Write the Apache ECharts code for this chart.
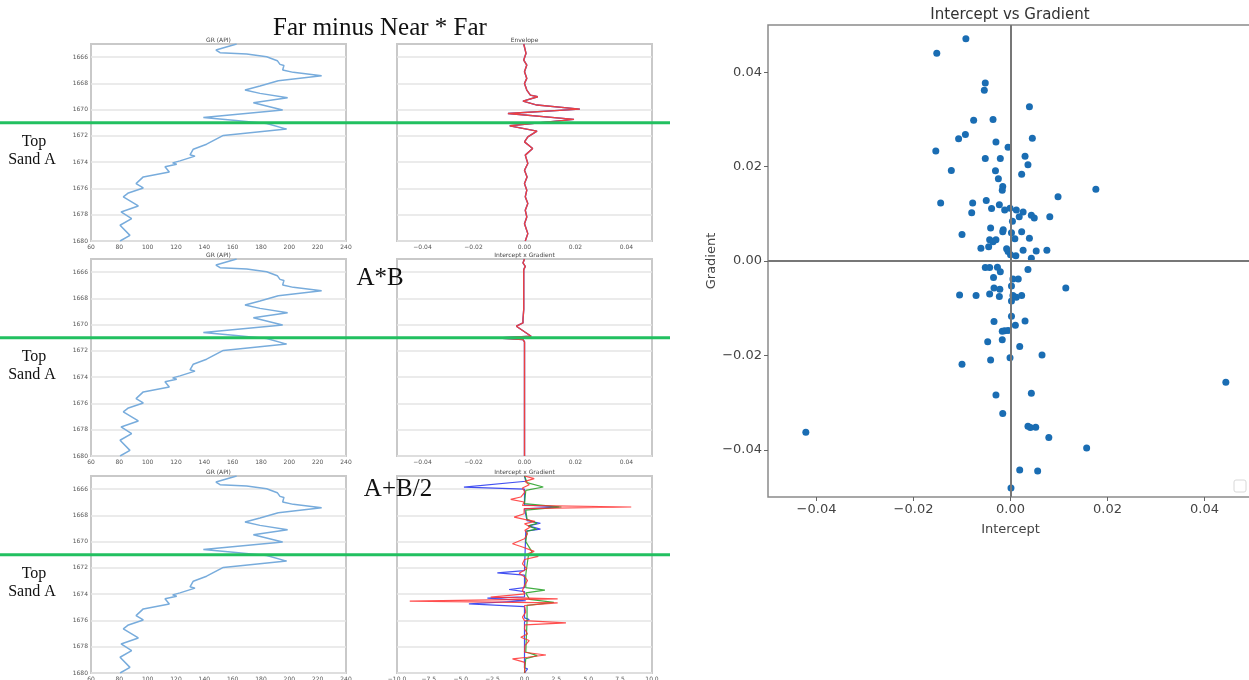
<!DOCTYPE html>
<html lang="en">
<head>
<meta charset="UTF-8" />
<title>Far minus Near * Far</title>
<style>html,body{margin:0;padding:0;background:#fff}</style>
</head>
<body>
<div id="main" style="width:1249px;height:680px"></div>
<script src="https://cdn.jsdelivr.net/npm/echarts@6/dist/echarts.min.js"></script>
<script>
// log tracks: depth ticks and top of sand
const depthTicks = [1666, 1668, 1670, 1672, 1674, 1676, 1678, 1680]
const topSandA = 1671

// GR (API) curve
const grDepth = [1665.0, 1665.46, 1665.66, 1665.76, 1665.97, 1666.27, 1666.55, 1666.63, 1666.98, 1667.16, 1667.41, 1667.8, 1668.2, 1668.51, 1668.76, 1669.09, 1669.47, 1670.03, 1670.59, 1670.8, 1671.05, 1671.48, 1671.96, 1672.63, 1673.01, 1673.44, 1673.54, 1673.9, 1674.05, 1674.15, 1674.35, 1674.74, 1675.12, 1675.63, 1675.96, 1676.34, 1676.64, 1677.33, 1677.79, 1678.29, 1678.8, 1679.57, 1680.0]
const grValues = [162.8, 148.2, 151.1, 169.9, 184.0, 191.5, 193.4, 196.2, 195.3, 202.8, 222.8, 192.2, 179.3, 168.7, 179.3, 198.8, 174.6, 195.3, 139.3, 160.5, 184.0, 198.1, 153.4, 141.6, 132.2, 129.9, 133.4, 122.8, 117.6, 120.5, 112.2, 115.3, 96.9, 91.8, 96.9, 86.4, 82.8, 93.4, 81.2, 88.7, 80.5, 87.5, 80.5]

// Envelope (far minus near * far)
const envDepth = [1665.0, 1665.71, 1666.22, 1666.6, 1667.11, 1667.62, 1668.0, 1668.51, 1668.89, 1669.02, 1669.35, 1669.65, 1669.96, 1670.29, 1670.74, 1671.23, 1671.63, 1672.07, 1672.45, 1672.96, 1673.46, 1674.1, 1674.61, 1675.12, 1675.63, 1676.13, 1676.64, 1677.15, 1677.66, 1678.17, 1678.68, 1679.44, 1680.0]
const envValues = [-0.0003, 0.0006, -0.0003, 0.0009, 0.0, 0.0009, 0.0, 0.0009, 0.0023, 0.0052, -0.0006, 0.0049, 0.0217, -0.0065, 0.0194, -0.0058, 0.0049, 0.0013, 0.0, 0.0032, 0.0003, 0.0013, 0.0, 0.001, 0.0, 0.0009, 0.0003, 0.0013, 0.0003, 0.0009, 0.0, 0.0013, 0.0003]

// Intercept x Gradient (A*B)
const abDepth = [1665.0, 1665.3, 1665.56, 1665.81, 1668.85, 1669.61, 1669.87, 1670.12, 1670.88, 1671.01, 1671.13, 1671.31, 1680.0]
const abValues = [0.0, -0.0006, 0.0003, -0.0003, -0.0003, -0.0006, -0.0006, -0.0032, 0.0026, -0.0103, -0.0006, 0.0, 0.0]

// Intercept x Gradient (A+B/2), three traces
const redDepth = [1665.0, 1665.2, 1665.41, 1665.66, 1665.92, 1666.22, 1666.6, 1666.78, 1666.98, 1667.24, 1667.36, 1667.49, 1667.87, 1668.13, 1668.3, 1668.46, 1668.64, 1668.89, 1669.14, 1669.4, 1669.78, 1670.16, 1670.41, 1670.74, 1670.92, 1671.12, 1671.36, 1671.69, 1672.07, 1672.4, 1672.7, 1672.96, 1673.34, 1673.72, 1673.97, 1674.23, 1674.35, 1674.53, 1674.66, 1674.86, 1675.37, 1675.75, 1676.01, 1676.19, 1676.34, 1676.64, 1677.03, 1677.28, 1677.53, 1677.91, 1678.42, 1678.63, 1678.8, 1678.93, 1679.19, 1679.57, 1680.0]
const redValues = [0.0, 0.76, 0.03, 0.37, -0.16, 0.03, -0.29, -1.08, -0.03, -0.16, 8.37, -0.03, -0.03, -0.81, 0.0, 0.81, 0.0, 0.45, 0.03, 0.24, 0.0, -0.94, -0.16, 0.76, 0.24, 1.08, 0.0, -0.16, 0.18, -0.42, 0.03, 0.24, 0.0, -0.16, 0.03, -2.65, 2.6, -9.0, 2.6, 0.0, 0.1, -0.16, 0.0, 3.25, 0.03, 0.0, 0.24, -0.29, 0.37, 0.03, 0.0, 1.68, 0.24, -0.94, 0.03, 0.0, 0.03]
const greenDepth = [1665.0, 1665.5, 1665.84, 1666.1, 1667.1, 1667.36, 1667.6, 1668.3, 1668.6, 1668.8, 1669.05, 1669.2, 1670.0, 1670.8, 1671.1, 1672.5, 1673.5, 1673.69, 1673.9, 1674.4, 1674.62, 1674.85, 1676.0, 1678.4, 1678.68, 1678.9, 1680.0]
const greenValues = [0.0, 0.2, 1.47, 0.1, 0.0, 2.9, 0.1, 0.2, 1.0, 0.3, 0.95, 0.2, 0.1, 0.6, 0.3, 0.1, 0.1, 1.6, 0.1, 0.4, 2.3, 0.2, 0.2, 0.1, 1.0, 0.1, 0.0]
const blueDepth = [1665.0, 1665.4, 1665.84, 1666.0, 1667.2, 1667.36, 1667.5, 1668.4, 1668.6, 1668.8, 1669.05, 1669.2, 1672.2, 1672.37, 1672.55, 1673.5, 1673.64, 1673.8, 1674.2, 1674.3, 1674.5, 1674.74, 1674.95, 1675.8, 1675.93, 1676.1, 1679.6, 1679.69, 1680.0]
const blueValues = [0.0, 0.1, -4.75, 0.0, 0.0, 2.7, 0.0, 0.2, 1.25, 0.3, 1.25, 0.1, 0.0, -2.13, 0.0, 0.0, -1.21, 0.0, 0.0, -2.91, 0.1, -4.36, 0.0, 0.0, 0.37, 0.0, 0.0, 0.24, 0.0]

// Intercept vs Gradient cross-plot
const intercept = [-0.0152, -0.0092, -0.0052, -0.0054, 0.0039, -0.0076, -0.0036, -0.0093, -0.0107, 0.0045, -0.003, -0.0005, -0.0154, 0.003, -0.0052, -0.0021, 0.0036, -0.0122, -0.0031, 0.0023, -0.0025, -0.0016, -0.0017, 0.0176, 0.0098, -0.0144, -0.0078, -0.005, -0.0023, -0.0039, -0.008, -0.0012, -0.0001, 0.0012, 0.0026, 0.0018, 0.0043, 0.0049, 0.0081, 0.0004, -0.0041, -0.0015, -0.0016, 0.0002, 0.0023, -0.01, 0.0039, 0.0009, -0.0043, -0.0036, -0.003, -0.0045, -0.0061, -0.0008, -0.0005, 0.0, 0.0011, 0.0026, 0.0053, 0.0075, 0.0043, -0.0052, -0.0043, -0.0027, -0.0021, -0.0035, 0.0036, 0.0005, 0.0016, 0.0002, -0.0034, -0.0022, 0.0114, -0.0105, -0.0071, -0.0043, -0.0023, 0.0005, 0.0012, 0.0023, 0.0002, 0.0002, -0.0034, 0.003, 0.001, -0.0017, -0.0012, -0.0005, -0.0047, -0.0017, 0.0019, 0.0065, -0.0041, -0.0001, -0.01, 0.0444, -0.003, 0.0043, -0.0016, 0.0036, 0.0041, 0.0052, 0.0079, 0.0157, 0.0019, 0.0056, 0.0001, -0.0422]
const gradient = [0.044, 0.0471, 0.0377, 0.0362, 0.0327, 0.0298, 0.03, 0.0268, 0.0259, 0.026, 0.0252, 0.0241, 0.0233, 0.0222, 0.0217, 0.0217, 0.0204, 0.0192, 0.0191, 0.0184, 0.0174, 0.0158, 0.015, 0.0152, 0.0136, 0.0123, 0.0123, 0.0128, 0.0119, 0.0111, 0.0102, 0.0108, 0.0112, 0.0108, 0.0104, 0.0094, 0.0097, 0.0091, 0.0094, 0.0084, 0.007, 0.0066, 0.0062, 0.006, 0.0062, 0.0056, 0.0048, 0.0047, 0.0045, 0.0041, 0.0045, 0.003, 0.0027, 0.0026, 0.002, 0.0013, 0.0011, 0.0023, 0.0021, 0.0023, 0.0006, -0.0014, -0.0014, -0.0013, -0.0023, -0.0035, -0.0018, -0.0038, -0.0038, -0.0053, -0.0057, -0.006, -0.0057, -0.0072, -0.0073, -0.007, -0.0075, -0.0073, -0.0077, -0.0073, -0.0085, -0.0117, -0.0128, -0.0127, -0.0136, -0.0149, -0.0148, -0.0147, -0.0171, -0.0167, -0.0181, -0.0199, -0.021, -0.0205, -0.0219, -0.0257, -0.0284, -0.028, -0.0323, -0.035, -0.0353, -0.0352, -0.0374, -0.0396, -0.0443, -0.0445, -0.0481, -0.0363]
const smallTicks = [-0.04, -0.02, 0, 0.02, 0.04]

const pair = (vals, depths) => vals.map((v, i) => [v, depths[i]])
const minus = (s) => String(s).replace('-', '\u2212')
const fmt2 = (v) => minus(v.toFixed(2))

// grid boxes: [left, top] of each log track
const trackLeft = [91, 397]
const trackTop = [44, 259, 476]
const trackW = 255
const trackH = 197

let grids = []
let xAxes = []
let yAxes = []
for (let r = 0; r < 3; r++) {
  for (let c = 0; c < 2; c++) {
    grids.push({
      left: trackLeft[c], top: trackTop[r], width: trackW, height: trackH,
      show: true, borderColor: '#c9c9c9', borderWidth: 2, backgroundColor: '#fff',
      outerBoundsMode: 'none'
    })
    let gi = grids.length - 1
    yAxes.push({
      type: 'value', gridIndex: gi, min: 1665, max: 1680, inverse: true,
      axisLine: { show: false, onZero: false },
      axisTick: { show: false, customValues: depthTicks },
      axisLabel: { show: c === 0, customValues: depthTicks, formatter: (v) => String(v), fontSize: 6, color: '#555', margin: 3, fontFamily: 'DejaVu Sans' },
      splitLine: { show: true, lineStyle: { color: '#e4e4e4', width: 1.5 } }
    })
    let xa = {
      type: 'value', gridIndex: gi,
      axisLine: { show: false, onZero: false }, splitLine: { show: false },
      axisTick: { show: false },
      axisLabel: { fontSize: 6, color: '#555', margin: 3, fontFamily: 'DejaVu Sans' }
    }
    if (c === 0) {
      xa.min = 60; xa.max = 240; xa.interval = 20
    } else if (r < 2) {
      xa.min = -0.05; xa.max = 0.05
      xa.axisTick.customValues = smallTicks
      xa.axisLabel.customValues = smallTicks
      xa.axisLabel.formatter = fmt2
    } else {
      xa.min = -10; xa.max = 10; xa.interval = 2.5
      xa.axisLabel.formatter = (v) => minus(v.toFixed(1))
    }
    xAxes.push(xa)
  }
}

// cross-plot grid
grids.push({
  left: 768, top: 25, width: 485, height: 472,
  show: true, borderColor: '#8a8a8a', borderWidth: 1.5, outerBoundsMode: 'none'
})
const crossAxis = (name, gap) => ({
  type: 'value', gridIndex: 6, min: -0.05, max: 0.05,
  name: name, nameLocation: 'middle', nameGap: gap,
  nameTextStyle: { fontSize: 13, color: '#444', fontFamily: 'DejaVu Sans' },
  axisLine: { show: false, onZero: false }, splitLine: { show: false },
  axisTick: { show: true, length: 4, customValues: smallTicks, lineStyle: { color: '#666' } },
  axisLabel: { customValues: smallTicks, formatter: fmt2, fontSize: 13, color: '#444', fontFamily: 'DejaVu Sans', margin: 6 }
})
xAxes.push(crossAxis('Intercept', 26))
yAxes.push(crossAxis('Gradient', 50))

const line = (idx, data, color, width, opacity) => ({
  type: 'line', xAxisIndex: idx, yAxisIndex: idx, data: data,
  showSymbol: false, silent: true, animation: false,
  lineStyle: { color: color, width: width, opacity: opacity || 1 }
})

let series = []
for (let r = 0; r < 3; r++) series.push(line(r * 2, pair(grValues, grDepth), '#78acdc', 1.5))
series.push(line(1, pair(envValues, envDepth), '#3050e0', 1.4))
series.push(line(1, pair(envValues, envDepth), '#ee4040', 1.4))
series.push(line(3, pair(abValues, abDepth), '#3050e0', 1.4))
series.push(line(3, pair(abValues, abDepth), '#ee4040', 1.4))
series.push(line(5, pair(blueValues, blueDepth), '#2233ee', 1.2, 0.85))
series.push(line(5, pair(greenValues, greenDepth), '#22a022', 1.2, 0.85))
series.push(line(5, pair(redValues, redDepth), '#ff3030', 1.2, 0.85))
series.push({
  type: 'scatter', xAxisIndex: 6, yAxisIndex: 6,
  data: intercept.map((v, i) => [v, gradient[i]]),
  symbolSize: 7, itemStyle: { color: '#1a6db3', opacity: 1 }, animation: false,
  markLine: {
    silent: true, symbol: 'none', label: { show: false }, animation: false,
    lineStyle: { color: '#777', width: 2, type: 'solid' },
    data: [{ xAxis: 0 }, { yAxis: 0 }]
  }
})

let chart = echarts.init(document.getElementById('main'))
chart.setOption({
  animation: false,
  grid: grids, xAxis: xAxes, yAxis: yAxes, series: series
})

// annotations
const serif = 'Liberation Serif'
const txt = (x, y, s, size, font, color) => ({
  type: 'text', x: x, y: y, z: 100,
  style: { text: s, fontSize: size, fontFamily: font, fill: color || '#111', textAlign: 'center', textVerticalAlign: 'middle' }
})
let graphics = [
  txt(380, 28, 'Far minus Near * Far', 25, serif),
  txt(380, 278, 'A*B', 25, serif),
  txt(398, 489, 'A+B/2', 25, serif),
  txt(1010, 15, 'Intercept vs Gradient', 15, 'DejaVu Sans', '#333'),
  { type: 'rect', z: 100, shape: { x: 1234, y: 480, width: 12, height: 12, r: 2 }, style: { fill: '#fff', stroke: '#d8d8d8', lineWidth: 1 } }
]
const titles = [['GR (API)', 'Envelope'], ['GR (API)', 'Intercept x Gradient'], ['GR (API)', 'Intercept x Gradient']]
for (let r = 0; r < 3; r++) {
  for (let c = 0; c < 2; c++) {
    graphics.push(txt(trackLeft[c] + trackW / 2, trackTop[r] - 4, titles[r][c], 6, 'DejaVu Sans', '#444'))
  }
  // green Top Sand A marker, placed from the depth scale
  let y = chart.convertToPixel({ gridIndex: r * 2 }, [100, topSandA])[1]
  graphics.push({ type: 'line', z: 110, shape: { x1: 0, y1: y, x2: 670, y2: y }, style: { stroke: '#22c060', lineWidth: 3 } })
  graphics.push(txt(34, y + 19, 'Top', 16, serif))
  graphics.push(txt(32, y + 37, 'Sand A', 16, serif))
}
chart.setOption({ graphic: graphics })
</script>
</body>
</html>
